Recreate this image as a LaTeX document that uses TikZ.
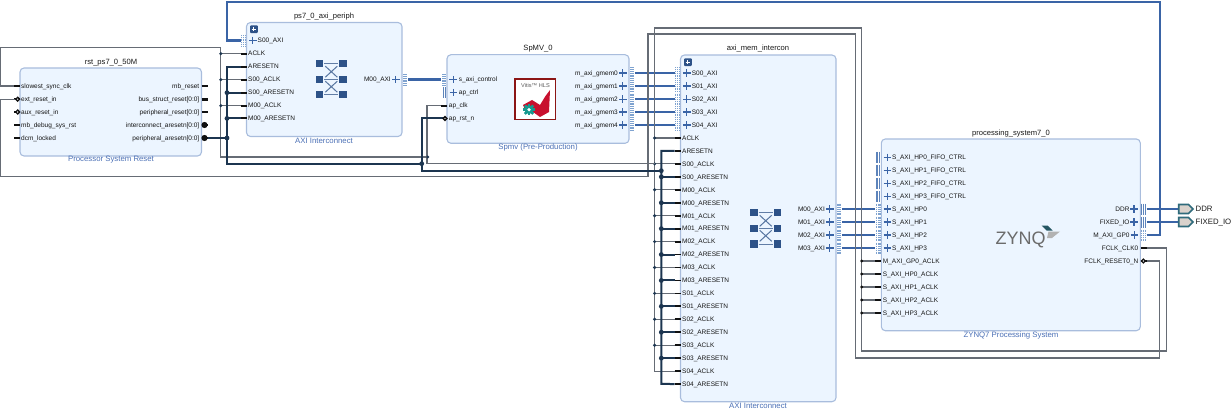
\documentclass[tikz,border=0pt]{standalone}
\usepackage{fontspec}
\setmainfont{Liberation Sans}
\definecolor{blockfill}{HTML}{ECF5FF}
\definecolor{blockline}{HTML}{A9BDDD}
\definecolor{subcol}{HTML}{4A6FB5}
\definecolor{busblue}{HTML}{3A64A6}
\definecolor{dotblue}{HTML}{7FA3D0}
\definecolor{clkgrey}{HTML}{666C75}
\definecolor{rstdark}{HTML}{1C3550}
\definecolor{iconblue}{HTML}{2D5288}
\definecolor{pindark}{HTML}{111111}
\definecolor{portfill}{HTML}{D9D2CC}
\definecolor{portline}{HTML}{2F6B7C}
\definecolor{vitisred}{HTML}{8C1515}
\definecolor{brightred}{HTML}{C8102E}
\definecolor{gearteal}{HTML}{16998F}
\tikzset{
  block/.style={draw=blockline,fill=blockfill,line width=1.1pt,rounded corners=4pt},
  blocktitle/.style={inner sep=0pt,font=\fontsize{7.6}{8}\selectfont,text=black!90},
  blocksub/.style={inner sep=0pt,font=\fontsize{7.8}{9}\selectfont,text=subcol},
  plabel/.style={inner sep=0pt,text height=4.6pt,text depth=0pt,font=\fontsize{6.5}{8}\selectfont,text=black!92},
  stub/.style={draw=pindark,line width=1.8pt},
  thickstub/.style={draw=pindark,line width=2.8pt},
  clkw/.style={draw=clkgrey,line width=1.05pt},
  rstw/.style={draw=rstdark,line width=2pt},
  busw/.style={draw=busblue,line width=2.4pt},
  plusmark/.style={draw=busblue,line width=1.1pt},
  portshape/.style={draw=portline,fill=portfill,line width=1.7pt},
  portlabel/.style={inner sep=0pt,anchor=west,text height=5.5pt,text depth=0pt,font=\fontsize{7.8}{9}\selectfont,text=black!90},
}
% input scalar pin: name, edge x, y, label x, text
\newcommand{\lpin}[5]{%
  \coordinate (#1) at ({#2-6},#3);
  \draw[stub] (#1) -- ++(6,0);
  \node[plabel,anchor=west] (#1t) at (#4,#3) {#5};}
% input reset pin with an open circle
\newcommand{\lrpin}[5]{%
  \coordinate (#1) at ({#2-3},#3);
  \draw[stub] ({#2-6},#3) -- ++(6,0);
  \node[plabel,anchor=west] (#1t) at (#4,#3) {#5};}
% output scalar pin: name, edge x, y, right end of label, text
\newcommand{\rpin}[5]{%
  \coordinate (#1) at ({#2+6},#3);
  \draw[stub] (#2,#3) -- (#1);
  \node[plabel,anchor=east] (#1t) at (#4,#3) {#5};}
\newcommand{\rthick}[5]{%
  \coordinate (#1) at ({#2+6},#3);
  \draw[thickstub] (#2,#3) -- (#1);
  \node[plabel,anchor=east] (#1t) at (#4,#3) {#5};}
\newcommand{\rblob}[5]{%
  \coordinate (#1) at ({#2+6},#3);
  \draw[stub] (#2,#3) -- (#1);
  \fill[pindark] ({#2+3},#3) circle (3.1);
  \node[plabel,anchor=east] (#1t) at (#4,#3) {#5};}
\newcommand{\plusat}[2]{\draw[plusmark] ({#1-3.8},#2) -- ({#1+3.8},#2) ({#1},{#2-3.8}) -- ({#1},{#2+3.8});}
% dotted interface cluster: left x, y
\newcommand{\dotcl}[2]{\foreach \ox in {.6,2.4,4.2}{\draw[dotblue,line width=1.2pt,dash pattern=on 1pt off .8pt] ({#1+\ox},{#2-5.5}) -- ({#1+\ox},{#2+5.5});}}
% solid bar cluster
\newcommand{\barcl}[3]{\foreach \ox in {#3}{\draw[dotblue!50!busblue,line width=1.2pt] ({#1+\ox},{#2-5.5}) -- ({#1+\ox},{#2+5.5});}}
% interface pin on the left / right
\newcommand{\lif}[5]{%
  \coordinate (#1) at ({#2-6},#3);
  \dotcl{#2-5.5}{#3}\plusat{#2+6.2}{#3}
  \node[plabel,anchor=west] (#1t) at (#4,#3) {#5};}
\newcommand{\rif}[5]{%
  \coordinate (#1) at ({#2+6},#3);
  \dotcl{#2+.5}{#3}\plusat{#2-6.2}{#3}
  \node[plabel,anchor=east] (#1t) at (#4,#3) {#5};}
\newcommand{\expandbox}[2]{%
  \fill[iconblue,rounded corners=1pt] (#1,#2) rectangle ++(7.8,7.8);
  \draw[white,line width=1.1pt] ({#1+1.7},{#2+3.9}) -- ({#1+6.1},{#2+3.9}) ({#1+3.9},{#2+1.7}) -- ({#1+3.9},{#2+6.1});}
\newcommand{\xbaricon}[2]{%
  \foreach \dy in {-15.7,0,15.7}{
    \fill[iconblue] ({#1-15.3},{#2+\dy-3.6}) rectangle ++(7.2,7.2);
    \fill[iconblue] ({#1+8.1},{#2+\dy-3.6}) rectangle ++(7.2,7.2);
    \draw[iconblue!75,line width=.9pt] ({#1-7},{#2+\dy}) -- ({#1+7},{#2+\dy});}
  \draw[iconblue!80,line width=1pt] ({#1-6},{#2-13}) -- ({#1+6},{#2-2}) ({#1-6},{#2-2}) -- ({#1+6},{#2-13})
     ({#1-6},{#2+2}) -- ({#1+6},{#2+13}) ({#1-6},{#2+13}) -- ({#1+6},{#2+2});}
\begin{document}
\begin{tikzpicture}[x=1pt,y=-1pt]
\useasboundingbox (0,0) rectangle (1231,409);
% blocks
\draw[block] (20,68) rectangle (201.5,156);
\draw[block] (246.5,22.5) rectangle (402,136.5);
\draw[block] (447,54.7) rectangle (629,143.3);
\draw[block] (680.5,55) rectangle (836,401.7);
\draw[block] (881.3,139) rectangle (1140.3,330.7);
\node[blocktitle] (rsttitle) at (111,62.7) {rst\_ps7\_0\_50M};
\node[blocksub] (rstsub) at (111,160) {Processor System Reset};
\node[blocktitle] (pertitle) at (324,17) {ps7\_0\_axi\_periph};
\node[blocksub] (persub) at (324,141) {AXI Interconnect};
\node[blocktitle] (spmvtitle) at (538,49) {SpMV\_0};
\node[blocksub] (spmvsub) at (538,147) {Spmv (Pre-Production)};
\node[blocktitle] (memtitle) at (758,49) {axi\_mem\_intercon};
\node[blocksub] (memsub) at (758,406) {AXI Interconnect};
\node[blocktitle] (pstitle) at (1011,133.5) {processing\_system7\_0};
\node[blocksub] (pssub) at (1011,335) {ZYNQ7 Processing System};
% icons
\xbaricon{331.3}{79.2}
\xbaricon{765.7}{228.3}
\expandbox{250}{25.3}
\expandbox{684}{58.3}
% Vitis logo
\draw[vitisred,fill=white,line width=1.7pt] (515,78.8) rectangle (555.5,119.5);
\node[inner sep=0pt,font=\fontsize{5.6}{6}\selectfont,text=black!65] (vitistext) at (535.5,85.8) {Vitis™ HLS};
\fill[brightred] (523,105) -- (532,100) -- (540,105) -- (545.5,96) -- (550,90) -- (549,112) -- (540,117) -- (533,112) -- (526,112) -- cycle;
\foreach \a in {0,45,...,315}{\fill[gearteal,rotate around={\a:(529,109.7)}] (527.8,103.9) rectangle (530.2,115.5);}
\fill[gearteal] (529,109.7) circle (4.4);
\fill[white] (529,109.7) circle (1.8);
% ZYNQ logo
\node[inner sep=0pt,anchor=base west,font=\fontsize{18}{20}\selectfont,text=black!58] (zynqtext) at (995.3,244.5) {ZYNQ};
\fill[portline!80!black] (1041.7,225.5) -- (1047.5,225.5) -- (1052.5,230.5) -- (1046.5,230.5) -- cycle;
\fill[black!30] (1048.5,231.5) -- (1060,231.5) -- (1052,238) -- (1047,238) -- cycle;
% rst pins
\lpin{slowclk}{20}{86}{21}{slowest\_sync\_clk}
\lrpin{extrst}{20}{99.2}{21}{ext\_reset\_in}
\lrpin{auxrst}{20}{112}{21}{aux\_reset\_in}
\lpin{mbdbg}{20}{125}{21}{mb\_debug\_sys\_rst}
\lpin{dcm}{20}{138}{21}{dcm\_locked}
\rpin{mbrst}{201.5}{86}{199.5}{mb\_reset}
\rthick{busrst}{201.5}{99.2}{199.5}{bus\_struct\_reset[0:0]}
\rthick{perrst}{201.5}{112}{199.5}{peripheral\_reset[0:0]}
\rblob{icarst}{201.5}{125}{199.5}{interconnect\_aresetn[0:0]}
\rblob{perarst}{201.5}{138}{199.5}{peripheral\_aresetn[0:0]}
% periph pins
\lif{pS}{246.5}{40.5}{257.5}{S00\_AXI}
\lpin{pACLK}{246.5}{53.7}{248}{ACLK}
\lpin{pARST}{246.5}{66.7}{248}{ARESETN}
\lpin{pSCLK}{246.5}{79.7}{248}{S00\_ACLK}
\lpin{pSRST}{246.5}{92.7}{248}{S00\_ARESETN}
\lpin{pMCLK}{246.5}{105.7}{248}{M00\_ACLK}
\lpin{pMRST}{246.5}{118.4}{248}{M00\_ARESETN}
\rif{pM}{402}{79.7}{391}{M00\_AXI}
% spmv pins
\lif{sCtl}{447}{79.7}{458.7}{s\_axi\_control}
\barcl{442.5}{92.7}{.7,3}
\plusat{453.3}{92.7}
\node[plabel,anchor=west] (sCtrlt) at (458.7,92.7) {ap\_ctrl};
\lpin{sClk}{447}{105.7}{448.7}{ap\_clk}
\lrpin{sRst}{447}{118.5}{448.7}{ap\_rst\_n}
\foreach \n/\y in {0/73,1/86,2/99.2,3/112,4/125}{
  \rif{g\n}{629}{\y}{618}{m\_axi\_gmem\n}
  \lif{m\n}{680.5}{\y}{691.7}{S0\n\_AXI}
}
% axi_mem scalar pins
\lpin{mACLK}{680.5}{138}{682}{ACLK}
\lpin{mARST}{680.5}{150.9}{682}{ARESETN}
\foreach \n/\y/\t in {S00/163.9/S00,M00/189.8/M00,M01/215.7/M01,M02/241.6/M02,M03/267.5/M03,S01/293.4/S01,S02/319.3/S02,S03/345.2/S03,S04/371.1/S04}{
  \lpin{m\n C}{680.5}{\y}{682}{\t\_ACLK}
  \lpin{m\n R}{680.5}{\y+12.95}{682}{\t\_ARESETN}
}
\foreach \n/\y in {0/209,1/222,2/235,3/248}{
  \rif{mM\n}{836}{\y}{825}{M0\n\_AXI}
  \lif{hp\n}{881.3}{\y}{892}{S\_AXI\_HP\n}
}
% ps pins
\foreach \n/\y in {0/157.3,1/170.3,2/183.3,3/196.3}{
  \barcl{876.3}{\y}{.7,3}
  \plusat{887.3}{\y}
  \node[plabel,anchor=west] (fifo\n) at (892,\y) {S\_AXI\_HP\n\_FIFO\_CTRL};
}
\lpin{gpClk}{881.3}{261}{882.7}{M\_AXI\_GP0\_ACLK}
\lpin{hc0}{881.3}{274}{882.7}{S\_AXI\_HP0\_ACLK}
\lpin{hc1}{881.3}{287}{882.7}{S\_AXI\_HP1\_ACLK}
\lpin{hc2}{881.3}{300}{882.7}{S\_AXI\_HP2\_ACLK}
\lpin{hc3}{881.3}{313}{882.7}{S\_AXI\_HP3\_ACLK}
\barcl{1140.5}{209}{.6,2.6,4.6}
\barcl{1140.5}{222}{.6,2.6,4.6}
\coordinate (pDDR) at (1146.5,209);
\coordinate (pFIO) at (1146.5,222);
\plusat{1134}{209}\plusat{1134}{222}
\node[plabel,anchor=east] (pDDRt) at (1129.7,209) {DDR};
\node[plabel,anchor=east] (pFIOt) at (1129.7,222) {FIXED\_IO};
\rif{pGP}{1140.5}{235}{1129.7}{M\_AXI\_GP0}
\rpin{fclk}{1140.5}{248}{1138.5}{FCLK\_CLK0}
\coordinate (frst) at (1146.5,261);
\draw[stub] (1140.5,261) -- (frst);
\node[plabel,anchor=east] (frstt) at (1138.5,261) {FCLK\_RESET0\_N};
% bus nets
\draw[busw] (pGP) -| (1160,1.8) -| (226.8,40.5) -- (pS);
\draw[busw] (pM) -- (sCtl);
\foreach \n in {0,...,4}{\draw[busw] (g\n) -- (m\n);}
\foreach \n in {0,...,3}{\draw[busw] (mM\n) -- (hp\n);}
\coordinate (xDDR) at (1178.7,209);
\coordinate (xFIO) at (1178.7,222);
\draw[busw] (pDDR) -- (xDDR);
\draw[busw] (pFIO) -- (xFIO);
% external ports
\draw[portshape] (1178.7,204.5) -- (1188.5,204.5) -- (1193,209) -- (1188.5,213.5) -- (1178.7,213.5) -- cycle;
\draw[portshape] (1178.7,217.5) -- (1188.5,217.5) -- (1193,222) -- (1188.5,226.5) -- (1178.7,226.5) -- cycle;
\node[portlabel] (xDDRt) at (1195.5,209) {DDR};
\node[portlabel] (xFIOt) at (1195.5,222) {FIXED\_IO};
% clock net
\draw[clkw] (fclk) -| (1166.3,351) -| (861.7,28) -| (654.6,371.1) -- (mS04C);
\draw[clkw] (gpClk) -- (861.7,261);
\foreach \p in {hc0,hc1,hc2,hc3}{\draw[clkw] (\p) -- (861.7,0 |- \p); \fill[pindark] (861.7,0 |- \p) circle (1.7);}
\fill[pindark] (861.7,261) circle (1.7);
\foreach \p in {mACLK,mS00C,mM00C,mM01C,mM02C,mM03C,mS01C,mS02C,mS03C}{\draw[clkw] (\p) -- (654.6,0 |- \p); \fill[rstdark] (654.6,0 |- \p) circle (1.7);}
\draw[clkw] (sClk) -| (427,163.9) -- (654.6,163.9);
\draw[clkw] (slowclk) -| (0.8,47.5) -| (220.8,157) -- (427,157);
\fill[rstdark] (427.7,157) circle (1.7);
\foreach \p in {pACLK,pSCLK,pMCLK}{\draw[clkw] (\p) -- (220.8,0 |- \p); \fill[rstdark] (220.8,0 |- \p) circle (1.7);}
% fabric reset net
\draw[clkw] (extrst) -| (0.8,176.7) -| (648,34) -| (855.3,358) -| (1159.7,261) -- (frst);
% peripheral reset net
\draw[rstw] (perarst) -- (227,138);
\draw[rstw] (pARST) -| (227,163.7) -- (421.7,163.7);
\foreach \p in {pSRST,pMRST}{\draw[rstw] (\p) -- (227,0 |- \p); \fill[rstdark] (227,0 |- \p) circle (2.4);}
\fill[rstdark] (227,138) circle (2.4);
\draw[rstw] (sRst) -| (421.7,170.7) -- (661.3,170.7);
\fill[rstdark] (421.7,163.7) circle (2.4);
\draw[rstw] (mARST) -| (661.3,383.9) -- (mS04R);
\fill[rstdark] (661.3,170.7) circle (2.4);
\foreach \p in {mS00R,mM00R,mM01R,mM02R,mM03R,mS01R,mS02R,mS03R}{\draw[rstw] (\p) -- (661.3,0 |- \p); \fill[rstdark] (661.3,0 |- \p) circle (2.4);}
% pin rings on top of the nets
\foreach \p in {extrst,auxrst}{\draw[draw=pindark,fill=white,line width=1.3pt] (\p) ++(0.7,0) circle (1.9);}
\draw[draw=pindark,fill=white,line width=1.3pt] (sRst) ++(1,0) circle (1.9);
\draw[draw=pindark,fill=white,line width=1.3pt] (1143.4,261) circle (1.9);
\end{tikzpicture}
\end{document}
